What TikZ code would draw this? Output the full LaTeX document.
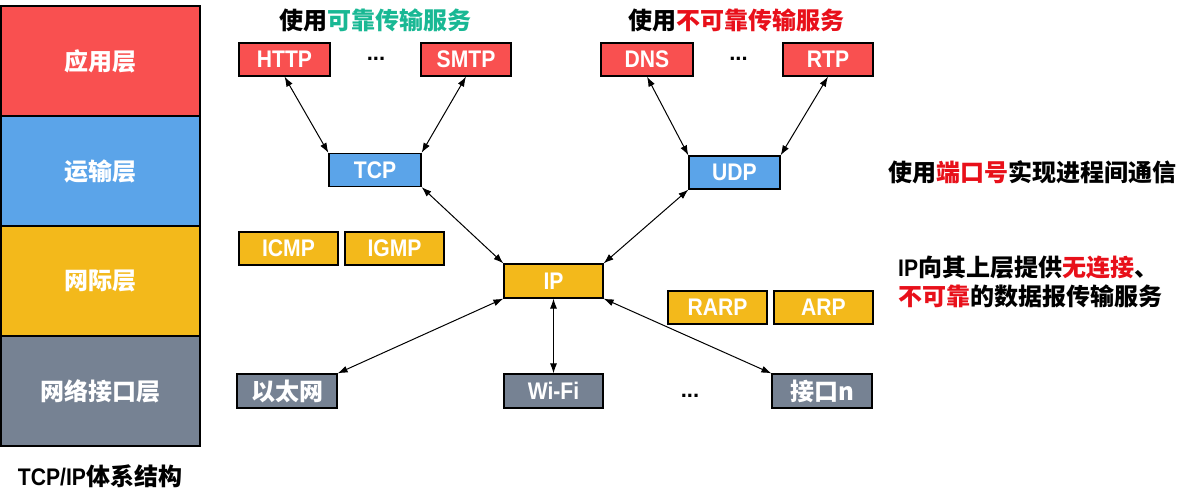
\documentclass[tikz,border=0pt]{standalone}
\usepackage{fontspec}
\setmainfont{Liberation Sans}
\newfontfamily\narrow{Liberation Sans}[FakeStretch=0.88]
\newfontfamily\cjk{Noto Sans CJK SC}
\usetikzlibrary{arrows.meta}
\definecolor{appred}{HTML}{F95050}
\definecolor{trblue}{HTML}{5BA4E9}
\definecolor{netyel}{HTML}{F3B91B}
\definecolor{lnkgray}{HTML}{768293}
\definecolor{tgreen}{HTML}{19B894}
\definecolor{tred}{HTML}{E8101A}
\begin{document}
\begin{tikzpicture}[x=1pt,y=-1pt,
  box/.style={draw=black, line width=1.2pt, inner sep=0pt, text=white,
    minimum height=33pt, font=\narrow\bfseries\fontsize{24}{28}\selectfont},
  cbox/.style={box, font=\cjk\bfseries\fontsize{24}{28}\selectfont},
  layer/.style={cbox, minimum width=199pt, minimum height=110pt},
  dots/.style={inner sep=0pt, anchor=base, font=\bfseries\fontsize{22}{26}\selectfont},
  ctext/.style={inner sep=0pt, font=\cjk\bfseries\fontsize{24}{29}\selectfont},
  arr/.style={{Latex[length=10pt,width=7pt]}-{Latex[length=10pt,width=7pt]}, line width=1pt}]
\useasboundingbox (0,0) rectangle (1192,495);

% layers
\node[layer, fill=appred] (lapp) at (100.5,61) {应用层};
\node[layer, fill=trblue] (ltr) at (100.5,171) {运输层};
\node[layer, fill=netyel] (lnet) at (100.5,281) {网际层};
\node[layer, fill=lnkgray] (llnk) at (100.5,391) {网络接口层};
\node[ctext] (cap) at (100,476) {{\narrow\bfseries TCP/IP}体系结构};

% titles
\node[ctext] (t1) at (375,20) {使用\textcolor{tgreen}{可靠传输服务}};
\node[ctext] (t2) at (736.5,20) {使用\textcolor{tred}{不可靠传输服务}};
\node[ctext, anchor=west] (t3) at (888,172) {使用\textcolor{tred}{端口号}实现进程间通信};
\node[ctext, anchor=west, align=left] (t4) at (898,281.5)
  {{\narrow\bfseries IP}向其上层提供\textcolor{tred}{无连接}、\\\textcolor{tred}{不可靠}的数据报传输服务};

% application layer
\node[box, fill=appred, minimum width=91pt] (http) at (284.5,59.5) {HTTP};
\node[dots] (d1) at (376,61) {...};
\node[box, fill=appred, minimum width=90pt] (smtp) at (466,59.5) {SMTP};
\node[box, fill=appred, minimum width=92pt] (dns) at (647,59.5) {DNS};
\node[dots] (d2) at (738.5,61) {...};
\node[box, fill=appred, minimum width=90pt] (rtp) at (828,59.5) {RTP};

% transport
\node[box, fill=trblue, minimum width=92pt] (tcp) at (375,170) {TCP};
\node[box, fill=trblue, minimum width=91pt] (udp) at (734.5,172.5) {UDP};

% internet
\node[box, fill=netyel, minimum width=99pt] (icmp) at (288.5,248.5) {ICMP};
\node[box, fill=netyel, minimum width=99pt] (igmp) at (394.5,248.5) {IGMP};
\node[box, fill=netyel, minimum width=99pt, minimum height=34pt] (ip) at (553.5,281) {IP};
\node[box, fill=netyel, minimum width=99pt] (rarp) at (717.5,307.5) {RARP};
\node[box, fill=netyel, minimum width=99pt] (arp) at (823.5,307.5) {ARP};

% link
\node[cbox, fill=lnkgray, minimum width=100pt, minimum height=34pt] (eth) at (287,391) {以太网};
\node[box, fill=lnkgray, minimum width=99pt, minimum height=34pt] (wifi) at (553.5,391) {Wi-Fi};
\node[dots] (d3) at (690,397) {...};
\node[cbox, fill=lnkgray, minimum width=100pt, minimum height=34pt] (ifn) at (822,391) {接口n};

% connectors
\draw[arr] (http.south) -- (tcp.north west);
\draw[arr] (smtp.south) -- (tcp.north east);
\draw[arr] (dns.south) -- (udp.north west);
\draw[arr] (rtp.south) -- (udp.north east);
\draw[arr] (tcp.south east) -- (ip.north west);
\draw[arr] (udp.south west) -- (ip.north east);
\draw[arr] (ip.south west) -- (eth.north east);
\draw[arr] (ip.south) -- (wifi.north);
\draw[arr] (ip.south east) -- (ifn.north west);
\end{tikzpicture}
\end{document}
